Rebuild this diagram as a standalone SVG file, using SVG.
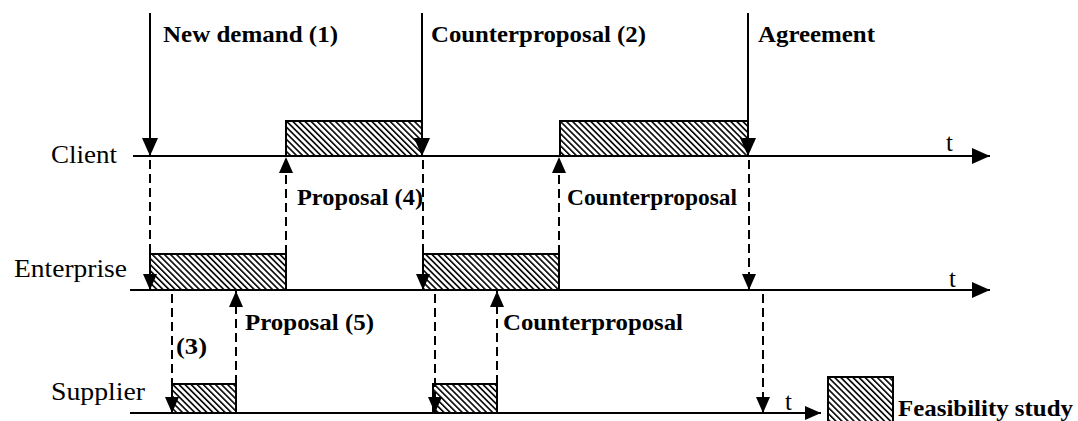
<svg xmlns="http://www.w3.org/2000/svg" width="1078" height="421" viewBox="0 0 1078 421">
<style>
.axis{stroke:#000;stroke-width:2;fill:none}
.solid{stroke:#000;stroke-width:2;fill:none}
.dash{stroke:#000;stroke-width:2;fill:none;stroke-dasharray:9 5}
.box{fill:url(#hatch);stroke:#000;stroke-width:2}
.lbl{font-family:'Liberation Serif',serif;font-weight:bold;font-size:24px;fill:#000}
.row{font-family:'Liberation Serif',serif;font-size:25px;fill:#000}
.t{font-family:'Liberation Serif',serif;font-size:25px;fill:#000}
</style>
<defs>
<pattern id="hatch" patternUnits="userSpaceOnUse" width="4.3" height="4.3" patternTransform="rotate(-45)">
<rect x="0" y="0" width="4.3" height="4.3" fill="#fff"/>
<line x1="0.8" y1="-1" x2="0.8" y2="6" stroke="#000" stroke-width="1.6"/>
</pattern>
<marker id="big" viewBox="0 0 18 16" refX="18" refY="8" markerWidth="18" markerHeight="16" orient="auto" markerUnits="userSpaceOnUse">
<path d="M0,0 L18,8 L0,16 z" fill="#000"/>
</marker>
<marker id="small" viewBox="0 0 16 14" refX="16" refY="7" markerWidth="16" markerHeight="14" orient="auto" markerUnits="userSpaceOnUse">
<path d="M0,0 L16,7 L0,14 z" fill="#000"/>
</marker>
</defs>
<rect width="1078" height="421" fill="#fff"/>

<g id="client">
<rect class="box" x="286" y="121" width="136" height="35"/>
<rect class="box" x="560" y="121" width="188" height="35"/>
<line class="axis" x1="133" y1="156" x2="990" y2="156" marker-end="url(#big)"/>
<text class="row" x="51" y="163" textLength="66" lengthAdjust="spacingAndGlyphs">Client</text>
<text class="t" x="946" y="151">t</text>
</g>

<g id="enterprise">
<rect class="box" x="150" y="254" width="136" height="36"/>
<rect class="box" x="423" y="254" width="136" height="36"/>
<line class="axis" x1="130" y1="290" x2="990" y2="290" marker-end="url(#big)"/>
<text class="row" x="14" y="277" textLength="113" lengthAdjust="spacingAndGlyphs">Enterprise</text>
<text class="t" x="949" y="287">t</text>
</g>

<g id="supplier">
<rect class="box" x="172" y="384" width="64" height="29"/>
<rect class="box" x="433" y="384" width="64" height="29"/>
<line class="axis" x1="130" y1="413" x2="821" y2="413" marker-end="url(#small)"/>
<text class="row" x="51" y="400" textLength="94" lengthAdjust="spacingAndGlyphs">Supplier</text>
<text class="t" x="785" y="410">t</text>
</g>

<g id="legend">
<rect class="box" x="828" y="377" width="65" height="50"/>
<text class="lbl" x="898" y="416" textLength="175" lengthAdjust="spacingAndGlyphs">Feasibility study</text>
</g>

<g id="connectors">
<line class="solid" x1="150" y1="13" x2="150" y2="156" marker-end="url(#big)"/>
<line class="solid" x1="422" y1="13" x2="422" y2="156" marker-end="url(#big)"/>
<line class="solid" x1="748" y1="13" x2="748" y2="156" marker-end="url(#big)"/>

<line class="dash" x1="150" y1="160" x2="150" y2="290" marker-end="url(#small)"/>
<line class="dash" x1="286" y1="254" x2="286" y2="157" marker-end="url(#small)"/>
<line class="dash" x1="423" y1="160" x2="423" y2="290" marker-end="url(#small)"/>
<line class="dash" x1="559" y1="254" x2="559" y2="157" marker-end="url(#small)"/>
<line class="dash" x1="749" y1="160" x2="749" y2="290" marker-end="url(#small)"/>

<line class="dash" x1="172" y1="294" x2="172" y2="413" marker-end="url(#small)"/>
<line class="dash" x1="236" y1="384" x2="236" y2="291" marker-end="url(#small)"/>
<line class="dash" x1="435" y1="294" x2="435" y2="413" marker-end="url(#small)"/>
<line class="dash" x1="497" y1="384" x2="497" y2="291" marker-end="url(#small)"/>
<line class="dash" x1="763" y1="294" x2="763" y2="413" marker-end="url(#small)"/>
</g>

<g id="labels">
<text class="lbl" x="163" y="42" textLength="175" lengthAdjust="spacingAndGlyphs">New demand (1)</text>
<text class="lbl" x="431" y="42" textLength="215" lengthAdjust="spacingAndGlyphs">Counterproposal (2)</text>
<text class="lbl" x="758" y="42" textLength="117" lengthAdjust="spacingAndGlyphs">Agreement</text>
<text class="lbl" x="297" y="205" textLength="126" lengthAdjust="spacingAndGlyphs">Proposal (4)</text>
<text class="lbl" x="567" y="205" textLength="170" lengthAdjust="spacingAndGlyphs">Counterproposal</text>
<text class="lbl" x="245" y="330" textLength="129" lengthAdjust="spacingAndGlyphs">Proposal (5)</text>
<text class="lbl" x="176" y="354" textLength="31" lengthAdjust="spacingAndGlyphs">(3)</text>
<text class="lbl" x="503" y="330" textLength="180" lengthAdjust="spacingAndGlyphs">Counterproposal</text>
</g>
</svg>
